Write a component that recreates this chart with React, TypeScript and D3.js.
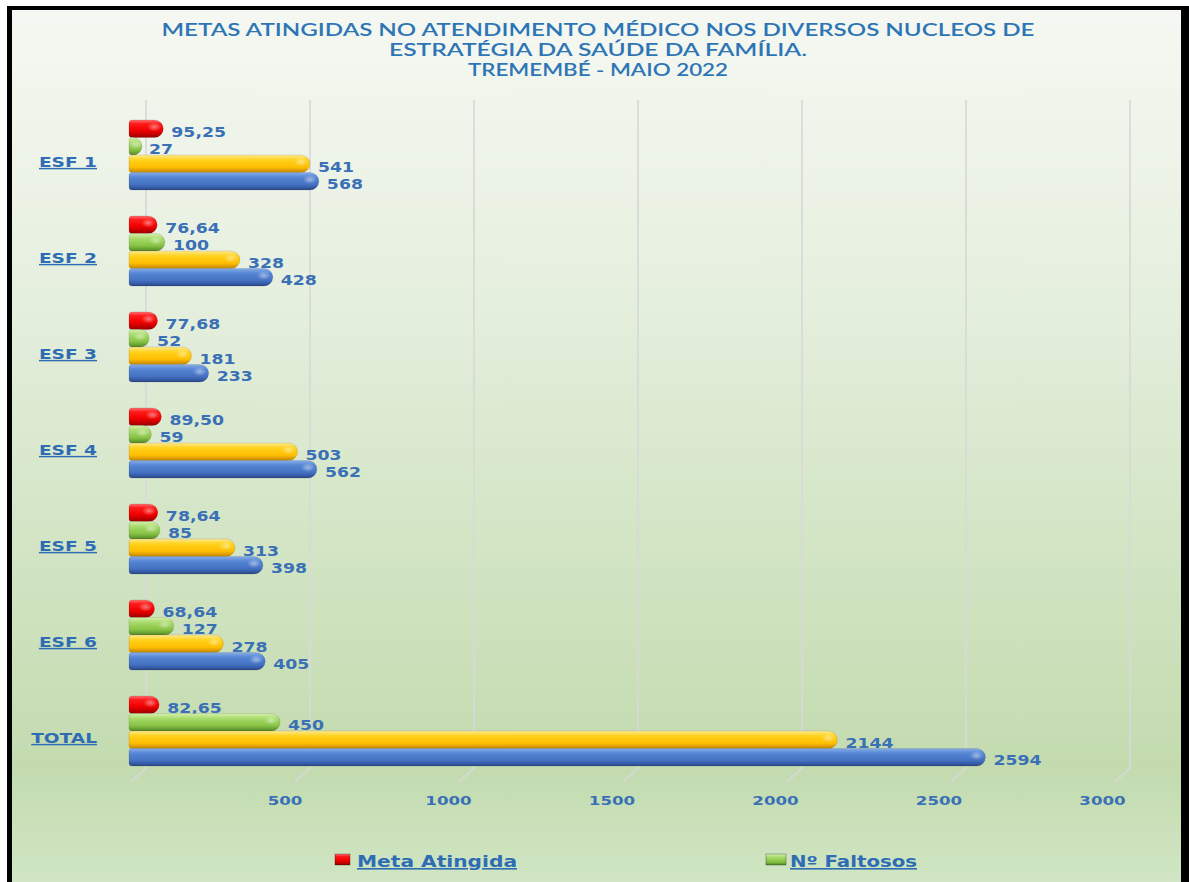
import * as d3 from "d3";

const categories = ["ESF 1", "ESF 2", "ESF 3", "ESF 4", "ESF 5", "ESF 6", "TOTAL"];
const metaAtingida = [95.25, 76.64, 77.68, 89.5, 78.64, 68.64, 82.65];
const faltosos = [27, 100, 52, 59, 85, 127, 450];
const atendidos = [541, 328, 181, 503, 313, 278, 2144];
const agendados = [568, 428, 233, 562, 398, 405, 2594];
const seriesNames = ["Meta Atingida", "Nº Faltosos", "Atendidos", "Agendados"];
const tickValues = [500, 1000, 1500, 2000, 2500, 3000];
const gridValues = [0, 500, 1000, 1500, 2000, 2500, 3000];
const titleLines = [
  "METAS ATINGIDAS NO ATENDIMENTO  MÉDICO NOS DIVERSOS NUCLEOS DE",
  "ESTRATÉGIA DA SAÚDE DA FAMÍLIA.",
  "TREMEMBÉ - MAIO 2022",
];
const legendItems = ["Meta Atingida", "Nº Faltosos"];

const W = 1189;
const H = 882;
const blue = "#2E6DB4";
const labelFont = "'DejaVu Sans', Verdana, sans-serif";

const gradStops: Record<string, [number, string][]> = {
  red: [[0, "#FF7070"], [0.22, "#FF1A1A"], [0.6, "#F00000"], [1, "#9A0000"]],
  green: [[0, "#D6F0AE"], [0.28, "#A9DB6C"], [0.7, "#86C243"], [1, "#568A28"]],
  yellow: [[0, "#FFEA90"], [0.28, "#FFD21C"], [0.7, "#FFBE00"], [1, "#C08400"]],
  blue: [[0, "#86ACEA"], [0.28, "#5585D3"], [0.7, "#4470C2"], [1, "#294888"]],
};
const seriesColor = ["red", "green", "yellow", "blue"];

function App() {
  const values = [metaAtingida, faltosos, atendidos, agendados];

  const y = d3.scaleBand<string>().domain(categories).range([107, 779]).paddingInner(0.27).paddingOuter(0.135);
  const inner = d3.scaleBand<string>().domain(seriesNames).range([0, y.bandwidth()]);
  const x = d3.scaleLinear().domain([0, 3000]).range([127, 1114]);
  const xBack = d3.scaleLinear().domain([0, 3000]).range([146, 1130]);
  const xTick = d3.scaleLinear().domain([0, 3000]).range([121.5, 1102.5]);

  const fmtMeta = (v: number) => d3.format(".2f")(v).replace(".", ",");
  const fmtInt = d3.format("d");

  const barPath = (x0: number, x1: number, y0: number, h: number) => {
    const r = 3;
    const rx = 9;
    const end = Math.max(x1 - 4, x0 + r + 1);
    return `M${x0 + r},${y0} L${end},${y0} A${rx},${h / 2} 0 0 1 ${end},${y0 + h} L${x0 + r},${y0 + h} Q${x0},${y0 + h} ${x0},${y0 + h - r} L${x0},${y0 + r} Q${x0},${y0} ${x0 + r},${y0} Z`;
  };

  return (
    <svg width={W} height={H} style={{ position: "absolute", left: 0, top: 0, display: "block" }}>
      <defs>
        <linearGradient id="bg" x1="0" y1="0" x2="0" y2="1">
          <stop offset="0" stopColor="#F5F8F2" />
          <stop offset="0.3" stopColor="#E7F0E0" />
          <stop offset="0.6" stopColor="#D3E5C5" />
          <stop offset="0.86" stopColor="#C3DBAF" />
          <stop offset="1" stopColor="#D1E7C6" />
        </linearGradient>
        <linearGradient id="grid" x1="0" y1="0" x2="0" y2="1">
          <stop offset="0" stopColor="#D4D4D4" />
          <stop offset="0.7" stopColor="#DCDCDC" />
          <stop offset="1" stopColor="#E8EEE2" />
        </linearGradient>
        {Object.entries(gradStops).map(([k, stops]) => (
          <linearGradient key={k} id={`g-${k}`} x1="0" y1="0" x2="0" y2="1">
            {stops.map(([o, c]) => (
              <stop key={o} offset={o} stopColor={c} />
            ))}
          </linearGradient>
        ))}
        <radialGradient id="shine" cx="0.5" cy="0.5" r="0.5">
          <stop offset="0" stopColor="#FFFFFF" stopOpacity="0.45" />
          <stop offset="1" stopColor="#FFFFFF" stopOpacity="0" />
        </radialGradient>
      </defs>

      <rect width={W} height={H} fill="#FFFFFF" />
      <rect x={7} y={6} width={W - 7} height={H} fill="#000000" />
      <rect x={12} y={10} width={1169} height={H} fill="url(#bg)" />

      {titleLines.map((t, i) => (
        <text
          key={i}
          x={598}
          y={36 + i * 20}
          textAnchor="middle"
          fontFamily="Lato, 'Open Sans', sans-serif"
          fontSize={17.5}
          fontWeight={600}
          fill="#2E75B6"
          textLength={[873, 418, 260][i]}
          lengthAdjust="spacingAndGlyphs"
        >
          {t}
        </text>
      ))}

      <g stroke="url(#grid)" strokeWidth={2} fill="none">
        {gridValues.map((v) => (
          <path key={v} d={`M${xBack(v)},100 L${xBack(v)},768 L${xBack(v) - 15},782`} stroke="#D8D8D8" opacity={0.85} />
        ))}
      </g>

      {categories.map((c) => {
        const cy = (y(c) ?? 0) + y.bandwidth() / 2;
        return (
          <text
            key={c}
            transform={`translate(97,${cy + 12}) scale(1.28,1)`}
            textAnchor="end"
            fontFamily={labelFont}
            fontWeight="bold"
            fontSize={14.5}
            fill={blue}
            style={{ textDecoration: "underline" }}
          >
            {c}
          </text>
        );
      })}

      {categories.map((c, ci) =>
        seriesNames.map((s, si) => {
          const v = values[si][ci];
          const y0 = (y(c) ?? 0) + (inner(s) ?? 0);
          const h = inner.bandwidth();
          const x0 = x(0) + 2;
          const x1 = x(v);
          const end = x1 + 5;
          return (
            <g key={`${c}-${s}`}>
              <path d={barPath(x0, x1, y0, h)} fill={`url(#g-${seriesColor[si]})`} stroke="rgba(0,0,0,0.18)" strokeWidth={0.6} />
              <ellipse cx={Math.max(end - 9, x0 + 7)} cy={y0 + h * 0.4} rx={7} ry={h * 0.26} fill="url(#shine)" />
              <text
                transform={`translate(${end + 8},${y0 + h / 2 + 8}) scale(1.28,1)`}
                fontFamily={labelFont}
                fontWeight="bold"
                fontSize={13.5}
                fill="#3A70B6"
              >
                {si === 0 ? fmtMeta(v) : fmtInt(v)}
              </text>
            </g>
          );
        })
      )}

      {tickValues.map((t) => (
        <text
          key={t}
          transform={`translate(${xTick(t)},805) scale(1.28,1)`}
          textAnchor="middle"
          fontFamily={labelFont}
          fontWeight="bold"
          fontSize={13}
          fill="#3A70B6"
        >
          {t}
        </text>
      ))}

      {legendItems.map((name, i) => {
        const ix = [335, 766][i];
        const tx = [357, 790][i];
        const tw = [160, 127][i];
        return (
          <g key={name}>
            <rect x={ix} y={854} width={[15, 20][i]} height={11} fill={`url(#g-${seriesColor[i]})`} stroke="rgba(0,0,0,0.35)" strokeWidth={0.8} />
            <text
              x={tx}
              y={867}
              fontFamily={labelFont}
              fontWeight="bold"
              fontSize={16}
              fill={blue}
              textLength={tw}
              lengthAdjust="spacingAndGlyphs"
              style={{ textDecoration: "underline" }}
            >
              {name}
            </text>
          </g>
        );
      })}
    </svg>
  );
}

export default App;
